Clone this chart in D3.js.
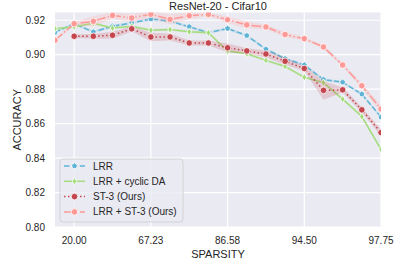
<!DOCTYPE html>
<html>
<head>
<meta charset="utf-8">
<script src="https://cdn.jsdelivr.net/npm/d3@7"></script>
<style>
  body { margin: 0; background: #fff; }
  text { font-family: "Liberation Sans", Arial, sans-serif; fill: #262626; }
</style>
</head>
<body>
<svg width="407" height="271"></svg>
<script>
// sparsity levels (equally spaced on the axis)
const sparsity = ["0.00", "20.00", "36.00", "48.80", "59.04", "67.23", "73.79", "79.03", "83.22",
                  "86.58", "89.26", "91.41", "93.13", "94.50", "95.60", "96.48", "97.19", "97.75"];
const xTickIdx = [1, 5, 9, 13, 17];
const yTicks = [0.80, 0.82, 0.84, 0.86, 0.88, 0.90, 0.92];

const lrr    = [0.913, 0.918, 0.9132, 0.9165, 0.9185, 0.9207, 0.9195, 0.9162, 0.9128, 0.9152, 0.9111, 0.9032, 0.8977, 0.894, 0.8856, 0.884, 0.8771, 0.8638];
const cyclic = [0.915, 0.9162, 0.9182, 0.9155, 0.9165, 0.9142, 0.9146, 0.9133, 0.9127, 0.9021, 0.9005, 0.8967, 0.8932, 0.8869, 0.8838, 0.8742, 0.8641, 0.8451];
const st3    = [null, 0.9107, 0.9107, 0.9113, 0.915, 0.9103, 0.9103, 0.9068, 0.9068, 0.904, 0.9022, 0.9004, 0.8962, 0.892, 0.8793, 0.8796, 0.868, 0.8548];
const lrrSt3 = [0.9084, 0.918, 0.9194, 0.9228, 0.9213, 0.9235, 0.9205, 0.9226, 0.9234, 0.9203, 0.9173, 0.9161, 0.9117, 0.9093, 0.9045, 0.894, 0.882, 0.8685];

// half-width of the shaded bands
const lrrErr    = [0.0008, 0.0008, 0.0008, 0.0008, 0.0008, 0.0008, 0.0008, 0.0008, 0.0008, 0.0008, 0.0008, 0.0008, 0.0008, 0.0008, 0.0008, 0.0008, 0.0008, 0.0008];
const cyclicErr = [0.0007, 0.0007, 0.0007, 0.0007, 0.0007, 0.0007, 0.0007, 0.0007, 0.0007, 0.0007, 0.0007, 0.0007, 0.0007, 0.0007, 0.0007, 0.0007, 0.0007, 0.0007];
const st3Err    = [null, 0.001, 0.0015, 0.002, 0.0015, 0.0025, 0.002, 0.0015, 0.0015, 0.0025, 0.0015, 0.002, 0.002, 0.0015, 0.0055, 0.0015, 0.0015, 0.002];
const lrrSt3Err = [0.001, 0.001, 0.003, 0.002, 0.0025, 0.002, 0.003, 0.002, 0.001, 0.002, 0.002, 0.0015, 0.0015, 0.001, 0.001, 0.001, 0.0015, 0.002];

const series = [
  { name: "LRR", values: lrr, err: lrrErr, color: "#5fb4d6", dash: "5.5,2.4", marker: "pentagon" },
  { name: "LRR + cyclic DA", values: cyclic, err: cyclicErr, color: "#a4dc7e", dash: null, marker: "thindiamond" },
  { name: "ST-3 (Ours)", values: st3, err: st3Err, color: "#c4474f", dash: "1.5,2.5", marker: "circle" },
  { name: "LRR + ST-3 (Ours)", values: lrrSt3, err: lrrSt3Err, color: "#fd9a98", dash: "9.6,2.4,1.5,2.4", marker: "circle" }
];

const svg = d3.select("svg");
const pLeft = 55, pRight = 381, pTop = 12.5, pBottom = 227;

const x = d3.scaleLinear().domain([0, sparsity.length - 1]).range([pLeft, pRight]);
const y = d3.scaleLinear().domain([0.80, 0.9245]).range([pBottom, pTop]);

// background and grid
svg.append("rect").attr("x", pLeft).attr("y", pTop)
  .attr("width", pRight - pLeft).attr("height", pBottom - pTop).attr("fill", "#eaeaf2");

svg.append("defs").append("clipPath").attr("id", "clip")
  .append("rect").attr("x", pLeft).attr("y", pTop)
  .attr("width", pRight - pLeft).attr("height", pBottom - pTop);

const grid = svg.append("g");
grid.selectAll(".gy").data(yTicks).enter().append("line")
  .attr("x1", pLeft).attr("x2", pRight)
  .attr("y1", d => y(d)).attr("y2", d => y(d))
  .attr("stroke", "#fff").attr("stroke-width", 1.2);
grid.selectAll(".gx").data(xTickIdx).enter().append("line")
  .attr("y1", pTop).attr("y2", pBottom)
  .attr("x1", d => x(d)).attr("x2", d => x(d))
  .attr("stroke", "#fff").attr("stroke-width", 1.2);

// marker shapes
function markerPath(kind) {
  if (kind === "circle") return d3.symbol(d3.symbolCircle, 34)();
  if (kind === "thindiamond") return "M0,-3.8L2.3,0L0,3.8L-2.3,0Z";
  // pentagon
  const r = 3.2, pts = [];
  for (let i = 0; i < 5; i++) {
    const a = -Math.PI / 2 + i * 2 * Math.PI / 5;
    pts.push([r * Math.cos(a), r * Math.sin(a)]);
  }
  return "M" + pts.map(p => p.join(",")).join("L") + "Z";
}

const plot = svg.append("g").attr("clip-path", "url(#clip)");

series.forEach(s => {
  const pts = s.values.map((v, i) => ({ i: i, v: v, e: s.err[i] })).filter(d => d.v != null);

  plot.append("path").datum(pts)
    .attr("fill", s.color).attr("fill-opacity", 0.2)
    .attr("d", d3.area().x(d => x(d.i)).y0(d => y(d.v - d.e)).y1(d => y(d.v + d.e)));

  plot.append("path").datum(pts)
    .attr("fill", "none").attr("stroke", s.color).attr("stroke-width", 1.5)
    .attr("stroke-dasharray", s.dash)
    .attr("d", d3.line().x(d => x(d.i)).y(d => y(d.v)));

  plot.selectAll(null).data(pts).enter().append("path")
    .attr("transform", d => `translate(${x(d.i)},${y(d.v)})`)
    .attr("d", markerPath(s.marker))
    .attr("fill", s.color).attr("stroke", "#fff").attr("stroke-width", 0.8);
});

// tick labels
svg.selectAll(".yt").data(yTicks).enter().append("text")
  .attr("x", 45).attr("y", d => y(d)).attr("dy", "0.35em")
  .attr("text-anchor", "end").attr("font-size", 10)
  .text(d => d.toFixed(2));

svg.selectAll(".xt").data(xTickIdx).enter().append("text")
  .attr("x", d => x(d)).attr("y", 244)
  .attr("text-anchor", "middle").attr("font-size", 10)
  .text(d => sparsity[d]);

// axis titles and title
svg.append("text").attr("x", (pLeft + pRight) / 2).attr("y", 257.5)
  .attr("text-anchor", "middle").attr("font-size", 11).text("SPARSITY");
svg.append("text").attr("transform", `translate(20.5,${(pTop + pBottom) / 2}) rotate(-90)`)
  .attr("text-anchor", "middle").attr("font-size", 11).text("ACCURACY");
svg.append("text").attr("x", (pLeft + pRight) / 2).attr("y", 10)
  .attr("text-anchor", "middle").attr("font-size", 11).text("ResNet-20 - Cifar10");

// legend
const legend = svg.append("g");
legend.append("rect").attr("x", 60).attr("y", 159).attr("width", 123).attr("height", 63)
  .attr("rx", 3).attr("fill", "#eaeaf2").attr("fill-opacity", 0.8)
  .attr("stroke", "#cccccc").attr("stroke-width", 0.8);

series.forEach((s, k) => {
  const ly = 166 + k * 15.3;
  legend.append("line").attr("x1", 64).attr("x2", 85).attr("y1", ly).attr("y2", ly)
    .attr("stroke", s.color).attr("stroke-width", 1.5).attr("stroke-dasharray", s.dash);
  legend.append("path").attr("transform", `translate(74.5,${ly})`)
    .attr("d", markerPath(s.marker))
    .attr("fill", s.color).attr("stroke", "#fff").attr("stroke-width", 0.8);
  legend.append("text").attr("x", 93).attr("y", ly).attr("dy", "0.35em")
    .attr("font-size", 10).text(s.name);
});
</script>
</body>
</html>
